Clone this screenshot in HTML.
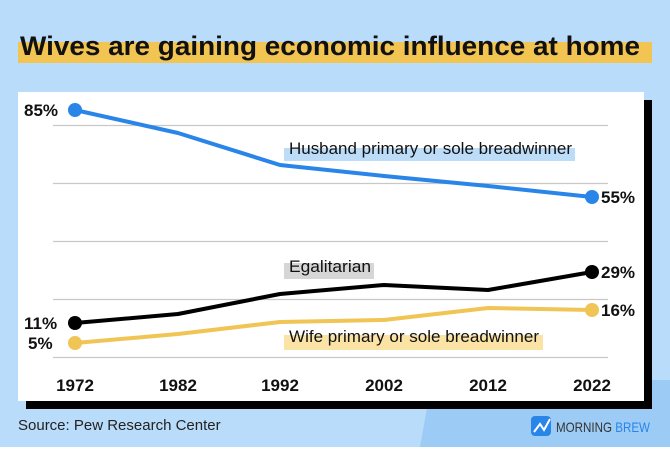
<!DOCTYPE html>
<html><head><meta charset="utf-8"><style>
body{margin:0;width:670px;height:447px;overflow:hidden;font-family:"Liberation Sans",sans-serif;}
</style></head><body>
<svg width="670" height="447" viewBox="0 0 670 447" xmlns="http://www.w3.org/2000/svg" font-family="Liberation Sans, sans-serif">
<rect width="670" height="447" fill="#badcfb"/>
<polygon points="420,447 670,447 670,380 432,380" fill="#9ccbf5"/>
<rect x="18" y="42" width="634" height="21" fill="#f2c452"/>
<text x="20" y="55" font-size="27" font-weight="bold" fill="#111" textLength="620" lengthAdjust="spacingAndGlyphs">Wives are gaining economic influence at home</text>
<rect x="26" y="100" width="626" height="309" fill="#000"/>
<rect x="18" y="92" width="626" height="309" fill="#fff"/>
<g stroke="#c8c8c8" stroke-width="1.2">
<line x1="53" y1="125.5" x2="608" y2="125.5"/>
<line x1="53" y1="183.5" x2="608" y2="183.5"/>
<line x1="53" y1="241.5" x2="608" y2="241.5"/>
<line x1="53" y1="299.5" x2="608" y2="299.5"/>
<line x1="53" y1="357.5" x2="608" y2="357.5"/>
</g>
<rect x="284" y="148" width="291" height="13" fill="#bcdcf8"/>
<rect x="284" y="263" width="90" height="16" fill="#d6d6d6"/>
<rect x="284" y="335" width="259" height="15" fill="#fbe3a6"/>
<g font-size="16.5" fill="#111">
<text x="289" y="154" textLength="283" lengthAdjust="spacingAndGlyphs">Husband primary or sole breadwinner</text>
<text x="289" y="272" textLength="82" lengthAdjust="spacingAndGlyphs">Egalitarian</text>
<text x="289" y="342" textLength="250" lengthAdjust="spacingAndGlyphs">Wife primary or sole breadwinner</text>
</g>
<g fill="none" stroke-width="4" stroke-linejoin="round" stroke-linecap="round">
<polyline stroke="#2a85e8" points="75,110 178,133 280,165 384,176 488,186 592,197"/>
<polyline stroke="#000" points="75,323 178,314 280,294 384,285 488,290 592,272"/>
<polyline stroke="#f0c555" points="75,343 178,334 280,322 384,320 488,308 592,310"/>
</g>
<circle cx="75" cy="110" r="7" fill="#2a85e8"/><circle cx="592" cy="197" r="7" fill="#2a85e8"/>
<circle cx="75" cy="323" r="7" fill="#000"/><circle cx="592" cy="272" r="7" fill="#000"/>
<circle cx="75" cy="343" r="7" fill="#f0c555"/><circle cx="592" cy="310" r="7" fill="#f0c555"/>
<g font-size="17" font-weight="bold" fill="#111">
<text x="24" y="116">85%</text>
<text x="24" y="329">11%</text>
<text x="28" y="349">5%</text>
<text x="601" y="203">55%</text>
<text x="601" y="278">29%</text>
<text x="601" y="316">16%</text>
</g>
<g font-size="17" font-weight="bold" fill="#111" text-anchor="middle">
<text x="75" y="391">1972</text>
<text x="178" y="391">1982</text>
<text x="280" y="391">1992</text>
<text x="384" y="391">2002</text>
<text x="488" y="391">2012</text>
<text x="592" y="391">2022</text>
</g>
<text x="18" y="430" font-size="15" fill="#222">Source: Pew Research Center</text>
<rect x="531" y="416" width="20" height="20" rx="4" fill="#2a85e8"/>
<polyline points="534,432 540,424 544,430 550,419" fill="none" stroke="#fff" stroke-width="2"/>
<text x="556" y="432" font-size="14" fill="#333" textLength="94" lengthAdjust="spacingAndGlyphs">MORNING <tspan fill="#2a85e8">BREW</tspan></text>
</svg>
</body></html>
